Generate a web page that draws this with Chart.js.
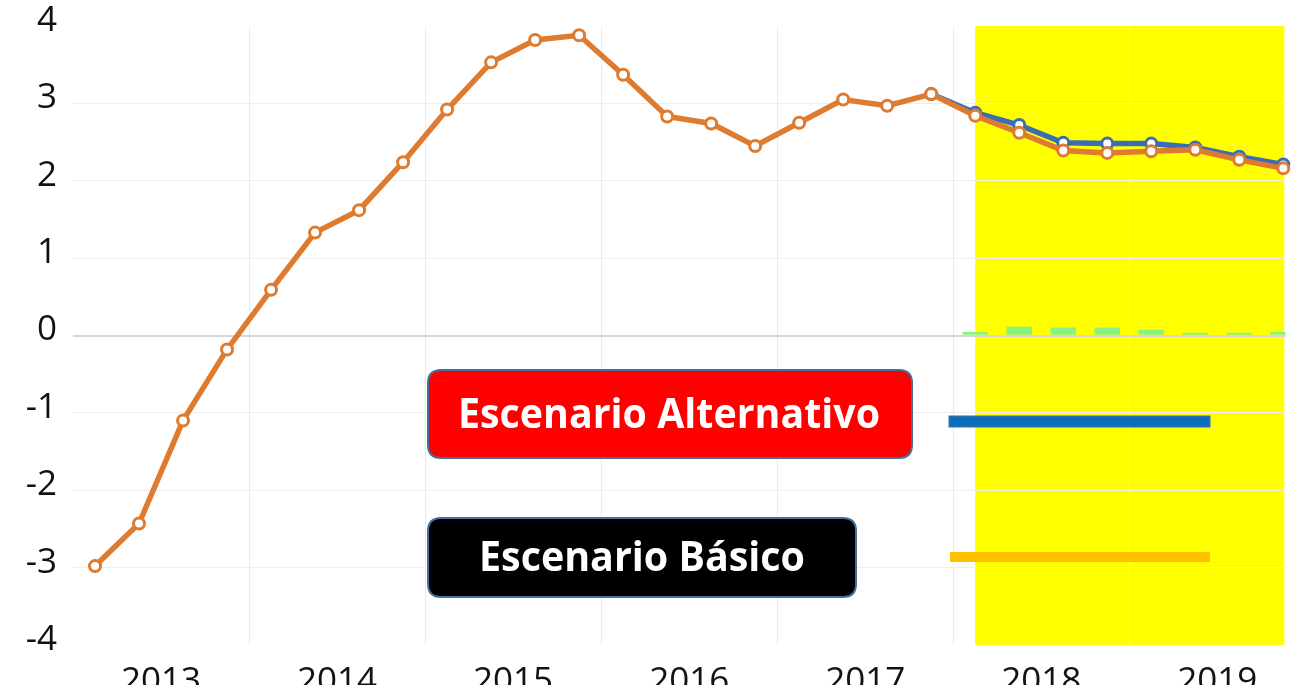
<!DOCTYPE html>
<html>
<head>
<meta charset="utf-8">
<script src="https://cdn.jsdelivr.net/npm/chart.js@4"></script>
<style>
  html, body { margin: 0; padding: 0; background: #fff; overflow: hidden; }
  #wrap { width: 1294px; height: 685px; position: relative; }
</style>
</head>
<body>
<div id="wrap"><canvas id="chart"></canvas></div>
<script>
// quarterly series, 2013Q1 .. 2019Q4
var years = ['2013', '2014', '2015', '2016', '2017', '2018', '2019'];
var basicValues = [
  -2.98, -2.43, -1.10, -0.18,
   0.59,  1.33,  1.62,  2.24,
   2.92,  3.53,  3.82,  3.88,
   3.37,  2.83,  2.74,  2.45,
   2.75,  3.05,  2.97,  3.12,
   2.84,  2.62,  2.39,  2.36,
   2.38,  2.40,  2.27,  2.16
];
// alternative scenario starts at 2017Q4 (index 19)
var altStart = 19;
var altValues = [3.12, 2.88, 2.72, 2.49, 2.48, 2.48, 2.43, 2.31, 2.21];
// difference bars start at 2018Q1 (index 20)
var diffStart = 20;
var diffValues = [0.04, 0.11, 0.10, 0.10, 0.07, 0.03, 0.03, 0.04];
var yTicks = [-4, -3, -2, -1, 0, 1, 2, 3, 4];
var forecastFrom = 20;

var basicPoints = basicValues.map(function (v, i) { return { x: i, y: v }; });
var altPoints = altValues.map(function (v, i) { return { x: altStart + i, y: v }; });
var diffPoints = diffValues.map(function (v, i) { return { x: diffStart + i, y: v }; });

var FONT = '"Open Sans", "Noto Sans", sans-serif';

function roundRect(ctx, x, y, w, h, r) {
  ctx.beginPath();
  ctx.moveTo(x + r, y);
  ctx.lineTo(x + w - r, y);
  ctx.quadraticCurveTo(x + w, y, x + w, y + r);
  ctx.lineTo(x + w, y + h - r);
  ctx.quadraticCurveTo(x + w, y + h, x + w - r, y + h);
  ctx.lineTo(x + r, y + h);
  ctx.quadraticCurveTo(x, y + h, x, y + h - r);
  ctx.lineTo(x, y + r);
  ctx.quadraticCurveTo(x, y, x + r, y);
  ctx.closePath();
}

function fitText(ctx, text, cx, cy, size, width) {
  ctx.save();
  ctx.font = 'bold ' + size + 'px ' + FONT;
  var w = ctx.measureText(text).width;
  ctx.translate(cx, cy);
  ctx.scale(width / w, 1);
  ctx.textAlign = 'center';
  ctx.textBaseline = 'middle';
  ctx.fillStyle = '#fff';
  ctx.fillText(text, 0, 0);
  ctx.restore();
}

function noPadding(scale) {
  scale.paddingTop = 0;
  scale.paddingBottom = 0;
  scale.paddingLeft = 0;
  scale.paddingRight = 0;
}

var decorations = {
  id: 'decorations',
  beforeDraw: function (chart) {
    var ctx = chart.ctx, a = chart.chartArea, x = chart.scales.x;
    var x0 = x.getPixelForValue(forecastFrom);
    var x1 = x.getPixelForValue(basicValues.length - 1) + 1;
    ctx.save();
    ctx.fillStyle = '#ffff00';
    ctx.fillRect(x0, a.top, x1 - x0, a.bottom - a.top);
    ctx.restore();
  },
  afterDraw: function (chart) {
    var ctx = chart.ctx;
    ctx.save();
    // scenario boxes
    roundRect(ctx, 428, 370, 484, 88, 13);
    ctx.fillStyle = '#ff0000';
    ctx.fill();
    ctx.lineWidth = 2;
    ctx.strokeStyle = '#41719c';
    ctx.stroke();
    fitText(ctx, 'Escenario Alternativo', 669, 416, 42, 422);

    roundRect(ctx, 428, 518, 428, 79, 13);
    ctx.fillStyle = '#000000';
    ctx.fill();
    ctx.lineWidth = 2;
    ctx.strokeStyle = '#41719c';
    ctx.stroke();
    fitText(ctx, 'Escenario Básico', 642, 559, 42, 326);

    // legend swatches
    ctx.fillStyle = '#0a6ebd';
    ctx.fillRect(949, 416, 261, 11);
    ctx.lineWidth = 1;
    ctx.strokeStyle = '#41719c';
    ctx.strokeRect(949, 416, 261, 11);
    ctx.fillStyle = '#ffc000';
    ctx.fillRect(950, 552, 260, 10);
    ctx.restore();
  }
};

new Chart(document.getElementById('chart'), {
  type: 'line',
  data: {
    datasets: [
      {
        type: 'bar',
        label: 'Diferencia',
        data: diffPoints,
        backgroundColor: '#88f383',
        barThickness: 25,
        order: 3
      },
      {
        label: 'Escenario Alternativo',
        data: altPoints,
        borderColor: '#3b6db6',
        borderWidth: 5.5,
        pointRadius: 5.5,
        pointBorderWidth: 3,
        pointBackgroundColor: '#fff',
        pointBorderColor: '#3b6db6',
        clip: false,
        order: 2
      },
      {
        label: 'Escenario Básico',
        data: basicPoints,
        borderColor: '#de7b2f',
        borderWidth: 5.5,
        pointRadius: 5.5,
        pointBorderWidth: 3,
        pointBackgroundColor: '#fff',
        pointBorderColor: '#de7b2f',
        clip: false,
        order: 1
      }
    ]
  },
  options: {
    responsive: true,
    maintainAspectRatio: false,
    animation: false,
    layout: { padding: { top: 26, right: 0, left: 0, bottom: 0 } },
    plugins: {
      legend: { display: false },
      tooltip: { enabled: false }
    },
    scales: {
      x: {
        type: 'linear',
        offset: false,
        min: -0.5,
        max: 27.05,
        afterBuildTicks: function (scale) {
          var t = [];
          for (var i = 0; i < years.length; i++) {
            t.push({ value: i * 4 + 1.5 });
            if (i < years.length - 1) t.push({ value: i * 4 + 3.5 });
          }
          scale.ticks = t;
        },
        afterFit: function (scale) { scale.height = 40; noPadding(scale); },
        ticks: {
          autoSkip: false,
          maxRotation: 0,
          padding: 16,
          color: '#111',
          font: { family: FONT, size: 35 },
          callback: function (v) {
            var k = (v - 1.5) / 4;
            return Number.isInteger(k) ? years[k] : '';
          }
        },
        grid: {
          offset: false,
          drawTicks: false,
          color: function (c) {
            if (!c.tick) return 'rgba(0,0,0,0)';
            var k = (c.tick.value - 3.5) / 4;
            return Number.isInteger(k) ? '#ececec' : 'rgba(0,0,0,0)';
          }
        },
        border: { display: false }
      },
      y: {
        min: -4,
        max: 4,
        afterBuildTicks: function (scale) {
          scale.ticks = yTicks.map(function (v) { return { value: v }; });
        },
        afterFit: function (scale) { scale.width = 73; noPadding(scale); },
        ticks: {
          padding: 16,
          labelOffset: -5,
          color: '#111',
          font: { family: FONT, size: 35 }
        },
        grid: {
          drawTicks: false,
          color: function (c) {
            if (!c.tick) return 'rgba(0,0,0,0)';
            var v = c.tick.value;
            if (v === 4 || v === -4) return 'rgba(0,0,0,0)';
            return v === 0 ? '#d6d6d6' : '#eeeeee';
          },
          lineWidth: function (c) { return c.tick && c.tick.value === 0 ? 2 : 1; }
        },
        border: { display: false }
      }
    }
  },
  plugins: [decorations]
});
</script>
</body>
</html>
